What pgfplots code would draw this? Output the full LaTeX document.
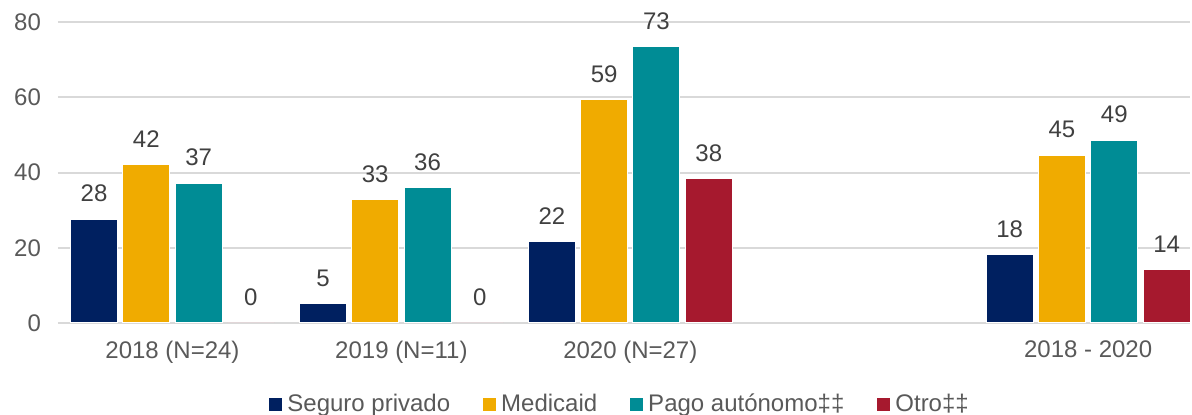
\documentclass[border=0pt]{standalone}
\usepackage{pgfplots}
\pgfplotsset{compat=1.18}
\usepackage{fontspec}
\setmainfont{Liberation Sans}
\definecolor{cnavy}{HTML}{002060}
\definecolor{corange}{HTML}{F0AB00}
\definecolor{cteal}{HTML}{008C95}
\definecolor{cred}{HTML}{A6192E}
\definecolor{ctext}{HTML}{595959}
\definecolor{clabel}{HTML}{404040}
\definecolor{cgrid}{HTML}{D9D9D9}
\begin{document}
\begin{tikzpicture}
\useasboundingbox (-29pt,-46pt) rectangle (567pt,161.5pt);
\begin{axis}[
  at={(0,0)}, anchor=south west,
  scale only axis,
  width=566pt, height=150.5pt,
  ybar=2.65pt, bar width=23.5pt,
  xmin=-0.5, xmax=4.445,
  ymin=0, ymax=80,
  xtick={0,1,2,4},
  xticklabels={2018 (N=24),2019 (N=11),2020 (N=27),2018 - 2020},
  ytick={0,20,40,60,80},
  axis x line*=bottom,
  axis y line*=left,
  x axis line style={draw=cgrid, line width=1pt},
  y axis line style={draw=none},
  major tick length=0pt,
  ymajorgrids,
  grid style={draw=cgrid, line width=1pt},
  tick label style={font=\fontsize{12}{14}\selectfont, text=ctext},
  /pgf/number format/assume math mode=true,
  xticklabel style={yshift=-5.5pt},
  yticklabel style={xshift=-5pt},
  nodes near coords,
  nodes near coords style={font=\fontsize{12}{14}\selectfont, text=clabel, yshift=5pt,
    /pgf/number format/fixed, /pgf/number format/precision=0, /pgf/number format/assume math mode=true},
  legend style={draw=none, fill=none, at={(0.497,-0.27)}, anchor=center,
    legend columns=4, font=\fontsize{12}{14}\selectfont, text=ctext,
    /tikz/every even column/.append style={column sep=14pt},
    legend cell align=left},
  legend image code/.code={\fill[#1] (0pt,-3.5pt) rectangle (7pt,3.5pt);},
  clip=false,
]
\addplot[draw=white, line width=0.5pt, fill=cnavy] coordinates {(0,27.6) (1,5.05) (2,21.6) (4,18.1)};
\addplot[draw=white, line width=0.5pt, fill=corange] coordinates {(0,42.0) (1,32.7) (2,59.3) (4,44.6)};
\addplot[draw=white, line width=0.5pt, fill=cteal] coordinates {(0,37.2) (1,35.9) (2,73.4) (4,48.6)};
\addplot[draw=white, line width=0.5pt, fill=cred] coordinates {(0,0) (1,0) (2,38.4) (4,14.1)};
\legend{Seguro privado, Medicaid, Pago autónomo‡‡, Otro‡‡}
\end{axis}
\end{tikzpicture}
\end{document}
